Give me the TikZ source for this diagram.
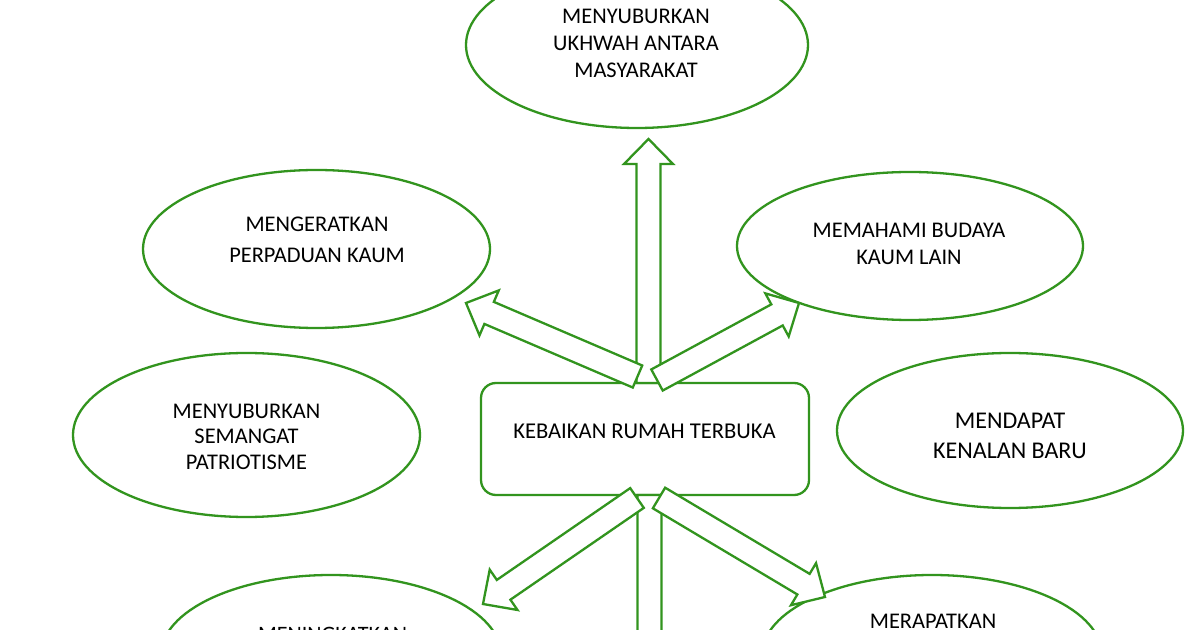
\documentclass[tikz,border=0pt]{standalone}
\usepackage{fontspec}
\setmainfont{Carlito}
\usetikzlibrary{calc,shapes.geometric}
\definecolor{lgreen}{RGB}{50,148,30}
\tikzset{
  oval/.style={draw=lgreen, line width=1.15pt, ellipse, inner sep=0pt, fill=white},
  lbl/.style={align=center, inner sep=0pt, text=black, font=\fontsize{11.2}{13.5}\selectfont},
  mainbox/.style={draw=lgreen, line width=1.15pt, rounded corners=7.5pt, fill=white,
    minimum width=164pt, minimum height=56pt, inner sep=0pt},
  blockarrow/.style={draw=lgreen, fill=white, line width=1.15pt, line join=miter,
    to path={
      let \p1=(\tikztostart), \p2=(\tikztotarget),
          \n1={atan2(\y2-\y1,\x2-\x1)},
          \n2={veclen(\x2-\x1,\y2-\y1)}
      in
      ($(\p1)+(\n1+90:6pt)$)
      -- ($(\p1)+(\n1:\n2-12.5pt)+(\n1+90:6pt)$)
      -- ($(\p1)+(\n1:\n2-12.5pt)+(\n1+90:12.25pt)$)
      -- (\p2)
      -- ($(\p1)+(\n1:\n2-12.5pt)+(\n1-90:12.25pt)$)
      -- ($(\p1)+(\n1:\n2-12.5pt)+(\n1-90:6pt)$)
      -- ($(\p1)+(\n1-90:6pt)$)
      -- cycle
    }
  }
}
\begin{document}
\begin{tikzpicture}[x=0.5pt,y=-0.5pt]
\useasboundingbox (0,0) rectangle (1200,630);
\fill[white] (0,0) rectangle (1200,630);
\clip (0,0) rectangle (1200,630);

% ellipses
\node[oval, minimum width=171pt, minimum height=83pt] (e1) at (637,45) {};
\node[oval, minimum width=173.5pt, minimum height=79pt] (e2) at (316.5,249) {};
\node[oval, minimum width=173pt, minimum height=74pt] (e3) at (910,246) {};
\node[oval, minimum width=173pt, minimum height=77.5pt] (e4) at (1010,430.5) {};
\node[oval, minimum width=173.5pt, minimum height=82pt] (e5) at (246.5,435) {};
\node[oval, minimum width=170pt, minimum height=80pt] (e6) at (331,655) {};
\node[oval, minimum width=170pt, minimum height=80pt] (e7) at (932,655) {};

% texts
\node[lbl] (t1) at (636,43) {MENYUBURKAN\\UKHWAH ANTARA\\MASYARAKAT};
\node[lbl, font=\fontsize{11.2}{15.5}\selectfont] (t2) at (317,239.5) {MENGERATKAN\\PERPADUAN KAUM};
\node[lbl] (t3) at (909,243.5) {MEMAHAMI BUDAYA\\KAUM LAIN};
\node[lbl, font=\fontsize{12}{15}\selectfont] (t4) at (1010,436) {MENDAPAT\\KENALAN BARU};
\node[lbl, font=\fontsize{11.2}{12.75}\selectfont] (t5) at (246.5,436.5) {MENYUBURKAN\\SEMANGAT\\PATRIOTISME};
\node[lbl, font=\fontsize{11}{13.5}\selectfont] (t6) at (332.5,634) {MENINGKATKAN};
\node[lbl] (t7) at (933,621.5) {MERAPATKAN};

% central box
\node[mainbox] (box) at (645,439) {};
\node[lbl, font=\fontsize{11.3}{13.5}\selectfont] (tb) at (644.5,431) {KEBAIKAN RUMAH TERBUKA};

% arrow end points
\coordinate (aUpS) at (648.5,383);
\coordinate (aUpT) at (648.5,139);
\coordinate (aDnS) at (649.5,495);
\coordinate (aDnT) at (649.5,720);
\coordinate (aLUS) at (637.5,376.5);
\coordinate (aLUT) at (466,303);
\coordinate (aRUS) at (657,380);
\coordinate (aRUT) at (799,303);
\coordinate (aLDS) at (637,498);
\coordinate (aLDT) at (483,604);
\coordinate (aRDS) at (659,498);
\coordinate (aRDT) at (825,597);

% block arrows
\draw[blockarrow] (aUpS) to (aUpT);
\draw[blockarrow] (aDnS) to (aDnT);
\draw[blockarrow] (aLUS) to (aLUT);
\draw[blockarrow] (aRUS) to (aRUT);
\draw[blockarrow] (aLDS) to (aLDT);
\draw[blockarrow] (aRDS) to (aRDT);
\end{tikzpicture}
\end{document}
